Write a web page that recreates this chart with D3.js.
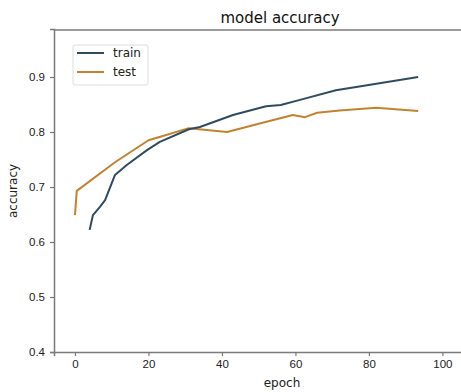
<!DOCTYPE html>
<html>
<head>
<meta charset="utf-8">
<script src="https://cdn.jsdelivr.net/npm/d3@7"></script>
<style>
  body { margin: 0; background: #fff; }
  svg { display: block; font-family: "DejaVu Sans", sans-serif; }
</style>
</head>
<body>
<svg id="chart" width="461" height="392"></svg>
<script>
// values
var trainEpoch = [4, 4.9, 6.8, 8.2, 10.9, 14.1, 19.6, 23.1, 31, 34, 43, 52, 56, 61, 71, 79.5, 93.4]
var trainAcc = [0.622, 0.649, 0.664, 0.676, 0.722, 0.74, 0.767, 0.782, 0.805, 0.809, 0.831, 0.847, 0.849, 0.858, 0.876, 0.885, 0.9]
var testEpoch = [0, 0.5, 10.9, 20, 23, 31, 41.4, 50, 59.3, 62.6, 65.9, 72, 82, 93.4]
var testAcc = [0.649, 0.693, 0.745, 0.785, 0.791, 0.807, 0.8, 0.815, 0.831, 0.827, 0.835, 0.839, 0.844, 0.838]
var xTicks = [0, 20, 40, 60, 80, 100]
var yTicks = [0.4, 0.5, 0.6, 0.7, 0.8, 0.9]
var legendNames = ["train", "test"]
var colors = ["#2f4b60", "#c4822f"]

var svg = d3.select("#chart")
var mLeft = 54, mTop = 30, mRight = 506, mBottom = 352
var axisColor = "#7a7a7a"
var textColor = "#222"

var x = d3.scaleLinear().domain([-5.7, 117.3]).range([mLeft, mRight])
var y = d3.scaleLinear().domain([0.4, 0.9873]).range([mBottom, 29])

// frame (right side is cut off by the picture)
svg.append("line").attr("x1", mLeft).attr("x2", mRight).attr("y1", mTop).attr("y2", mTop)
  .attr("stroke", axisColor).attr("stroke-width", 1.5)

var xAxis = svg.append("g").attr("transform", "translate(0," + mBottom + ")")
  .call(d3.axisBottom(x).tickValues(xTicks).tickSize(4).tickPadding(4).tickFormat(d3.format("d")))
var yAxis = svg.append("g").attr("transform", "translate(" + mLeft + ",0)")
  .call(d3.axisLeft(y).tickValues(yTicks).tickSize(4).tickPadding(5).tickFormat(d3.format(".1f")))

;[xAxis, yAxis].forEach(function (g) {
  g.select(".domain").attr("stroke", axisColor).attr("stroke-width", 1.5)
  g.selectAll(".tick line").attr("stroke", axisColor).attr("stroke-width", 1.2)
  g.selectAll(".tick text").attr("fill", textColor).style("font-size", "11.5px")
})

// series
var line = d3.line().x(function (d) { return x(d[0]) }).y(function (d) { return y(d[1]) })
var series = [d3.zip(trainEpoch, trainAcc), d3.zip(testEpoch, testAcc)]
// test under train, like the original crossing
svg.append("path").datum(series[1]).attr("d", line).attr("fill", "none")
  .attr("stroke", colors[1]).attr("stroke-width", 2).attr("stroke-linejoin", "round")
svg.append("path").datum(series[0]).attr("d", line).attr("fill", "none")
  .attr("stroke", colors[0]).attr("stroke-width", 2).attr("stroke-linejoin", "round")

// labels
svg.append("text").attr("x", 280).attr("y", 23).attr("text-anchor", "middle")
  .attr("fill", "#111").style("font-size", "15px").text("model accuracy")
svg.append("text").attr("x", 282).attr("y", 387).attr("text-anchor", "middle")
  .attr("fill", textColor).style("font-size", "12px").text("epoch")
svg.append("text").attr("transform", "translate(17,191) rotate(-90)").attr("text-anchor", "middle")
  .attr("fill", textColor).style("font-size", "12px").text("accuracy")

// legend
var lg = svg.append("g").attr("transform", "translate(73,45)")
lg.append("rect").attr("width", 75).attr("height", 40).attr("rx", 2)
  .attr("fill", "#fff").attr("stroke", "#ddd")
legendNames.forEach(function (n, i) {
  var ly = 8 + i * 19
  lg.append("line").attr("x1", 4).attr("x2", 31).attr("y1", ly).attr("y2", ly)
    .attr("stroke", colors[i]).attr("stroke-width", 2)
  lg.append("text").attr("x", 40).attr("y", ly + 4).attr("fill", textColor)
    .style("font-size", "12px").text(n)
})
</script>
</body>
</html>
